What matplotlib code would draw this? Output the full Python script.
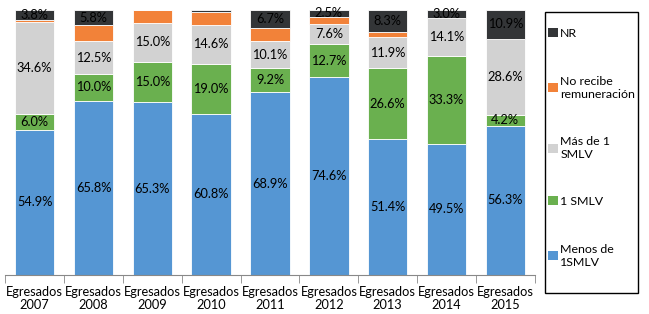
import numpy as np
import matplotlib.pyplot as plt
from matplotlib.patches import Patch, Rectangle

years = ['2007', '2008', '2009', '2010', '2011', '2012', '2013', '2014', '2015']
menos = [54.9, 65.8, 65.3, 60.8, 68.9, 74.6, 51.4, 49.5, 56.3]
uno = [6.0, 10.0, 15.0, 19.0, 9.2, 12.7, 26.6, 33.3, 4.2]
mas = [34.6, 12.5, 15.0, 14.6, 10.1, 7.6, 11.9, 14.1, 28.6]
no_rem = [0.7, 5.9, 4.7, 5.0, 5.1, 2.6, 1.8, 0.1, 0.0]
nr = [3.8, 5.8, 0.0, 0.6, 6.7, 2.5, 8.3, 3.0, 10.9]

series = [
    ('Menos de\n1SMLV', menos, '#5596d3', True),
    ('1 SMLV', uno, '#6ab04f', True),
    ('Más de 1\nSMLV', mas, '#d2d2d2', True),
    ('No recibe\nremuneración', no_rem, '#f28239', False),
    ('NR', nr, '#333537', True),
]

plt.rcParams['font.family'] = 'Lato'
fs = 9.2
fig = plt.figure(figsize=(6.49, 3.14), dpi=100)
ax = fig.add_axes([0.008, 0.124, 0.816, 0.844])

x = np.arange(len(years))
bottom = np.zeros(len(years))
handles = []
for name, vals, col, show in series:
    vals = np.array(vals)
    bars = ax.bar(x, vals, 0.67, bottom=bottom, color=col, edgecolor='white', linewidth=0.6)
    if show:
        labels = ['%.1f%%' % v if v >= 1 else '' for v in vals]
        ax.bar_label(bars, labels=labels, label_type='center', fontsize=fs, color='black')
    bottom += vals
    handles.append(Patch(facecolor=col, label=name))

ax.set_xlim(-0.5, len(years) - 0.5)
ax.set_ylim(0, 100)
ax.set_yticks([])
for s in ['top', 'right', 'left']:
    ax.spines[s].set_visible(False)
ax.spines['bottom'].set_color('#888888')
ax.set_xticks(x)
ax.set_xticklabels(['Egresados\n' + y for y in years], fontsize=fs, linespacing=1.05)
ax.tick_params(axis='x', which='major', length=0, pad=8)
ax.set_xticks(np.arange(-0.5, len(years)), minor=True)
ax.tick_params(axis='x', which='minor', length=6, color='#888888')

# legend box
fig.patches.append(Rectangle((0.840, 0.067), 0.143, 0.895, transform=fig.transFigure,
                             fill=False, edgecolor='black', linewidth=1.0))
leg = fig.legend(handles=handles[::-1], loc='upper left', bbox_to_anchor=(0.845, 0.91),
                 fontsize=8.9, frameon=False,
                 handlelength=0.75, handleheight=0.75, handletextpad=0.2,
                 labelspacing=2.95, borderpad=0, borderaxespad=0)

fig.savefig('out.png', dpi=100)
